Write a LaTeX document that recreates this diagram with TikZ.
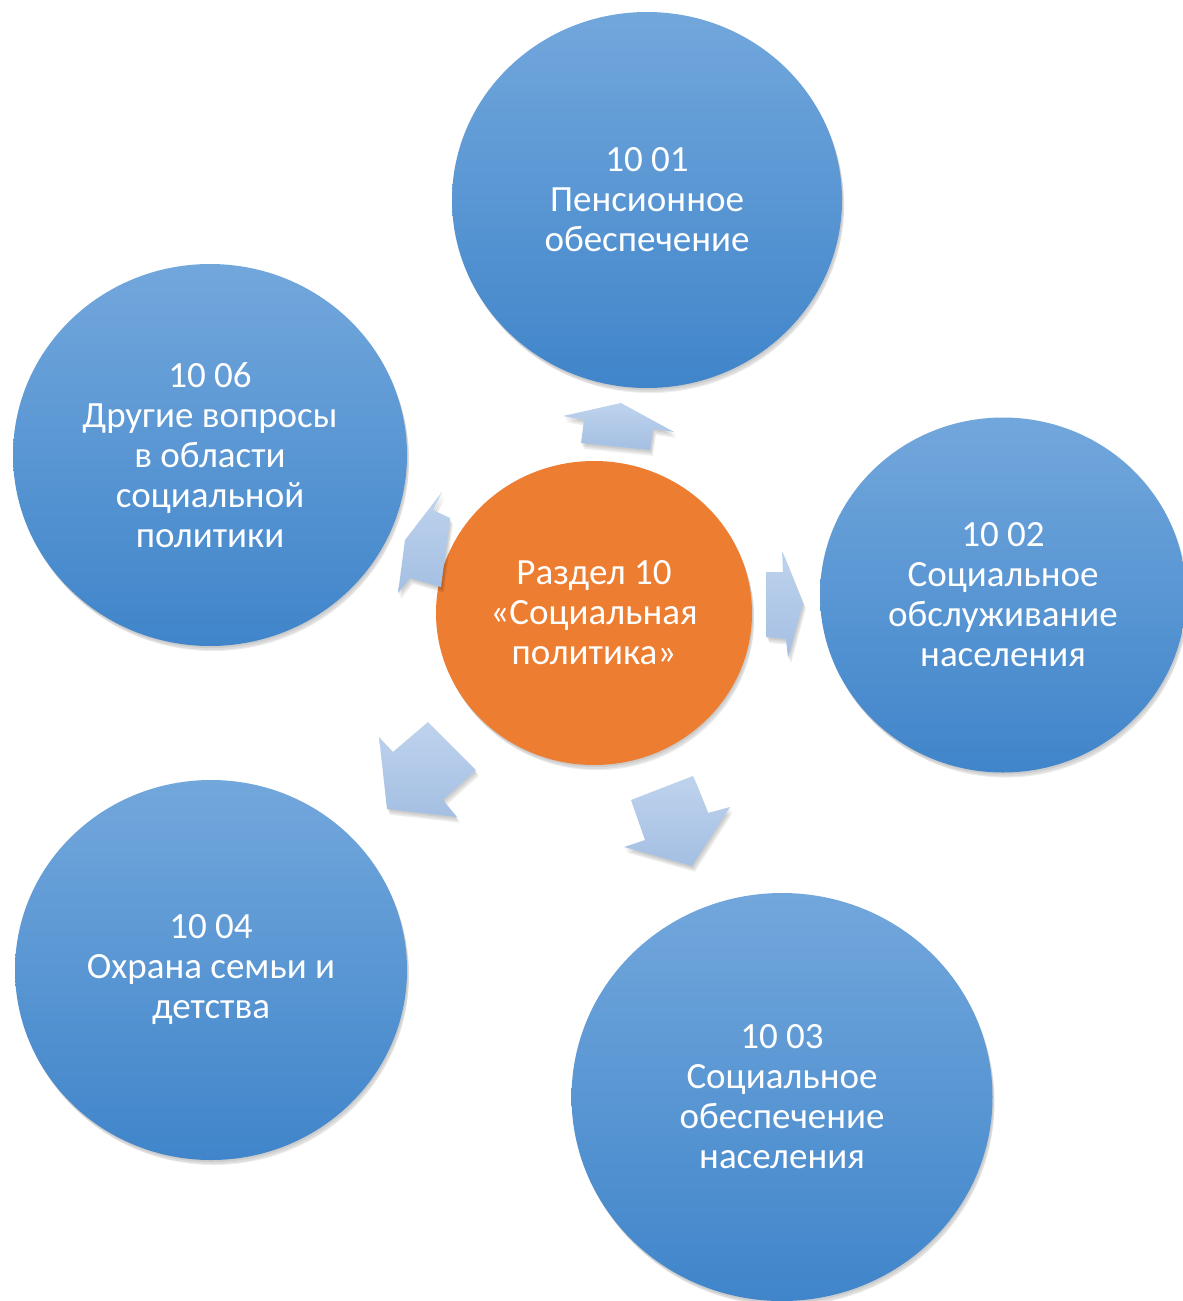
\documentclass[tikz,border=0pt]{standalone}
\usepackage{fontspec}
\setmainfont{Carlito}
\usetikzlibrary{shapes.geometric,shadows}
\definecolor{bluetop}{RGB}{114,167,220}
\definecolor{bluebot}{RGB}{64,133,202}
\definecolor{orangec}{RGB}{237,125,49}
\definecolor{arrtop}{RGB}{190,211,237}
\definecolor{arrbot}{RGB}{164,191,227}
\tikzset{
  softshadow/.style={
    general shadow={fill=black, opacity=0.07, shadow xshift=1pt, shadow yshift=-2pt},
    general shadow={fill=black, opacity=0.07, shadow xshift=2pt, shadow yshift=-4pt},
    general shadow={fill=black, opacity=0.07, shadow xshift=3pt, shadow yshift=-6pt, shadow scale=0.995}},
  bubble/.style={ellipse, inner sep=0pt, softshadow, top color=bluetop, bottom color=bluebot,
    draw=none, text=white, align=center, font=\fontsize{37}{40}\selectfont},
  hub/.style={ellipse, inner sep=0pt, softshadow, fill=orangec, draw=none, text=white,
    align=center, font=\fontsize{37}{40}\selectfont},
  blockarrow/.style={softshadow, top color=arrtop, bottom color=arrbot, draw=none}
}
\begin{document}
\begin{tikzpicture}[x=1pt,y=-1pt]
\useasboundingbox[fill=white] (0,0) rectangle (1183,1301);
\node[bubble, minimum width=390pt, minimum height=376pt] (c01) at (647,200) {10 01\\Пенсионное\\обеспечение};
\node[bubble, minimum width=394pt, minimum height=382pt] (c06) at (210,455) {10 06\\Другие вопросы\\в области\\социальной\\политики};
\node[bubble, minimum width=366pt, minimum height=355pt] (c02) at (1003,595) {10 02\\Социальное\\обслуживание\\населения};
\node[bubble, minimum width=392pt, minimum height=380pt] (c04) at (211,970) {10 04\\Охрана семьи и\\детства};
\node[bubble, minimum width=421pt, minimum height=408pt] (c03) at (782,1097) {10 03\\Социальное\\обеспечение\\населения};
\node[hub, minimum width=316pt, minimum height=304pt] (c00) at (594,613) {Раздел 10\\«Социальная\\политика»};
% block arrows
\path[blockarrow] (563,416) -- (621,403) -- (674,432) -- (653,429) -- (650,450) -- (581,443) -- (584,420) -- cycle;
\path[blockarrow] (766,572) -- (783,572) -- (782,551) -- (803,603) -- (788,658) -- (786,639) -- (766,637) -- cycle;
\path[blockarrow] (631,800) -- (693,776) -- (708,813) -- (730,807) -- (692,866) -- (624,847) -- (645,840) -- cycle;
\path[blockarrow] (379,737) -- (393,752) -- (428,722) -- (476,770) -- (443,800) -- (457,817) -- (387,809) -- cycle;
\path[blockarrow] (442,492) -- (433,510) -- (450,518) -- (441,587) -- (410,578) -- (398,593) -- (405,540) -- cycle;
\end{tikzpicture}
\end{document}
